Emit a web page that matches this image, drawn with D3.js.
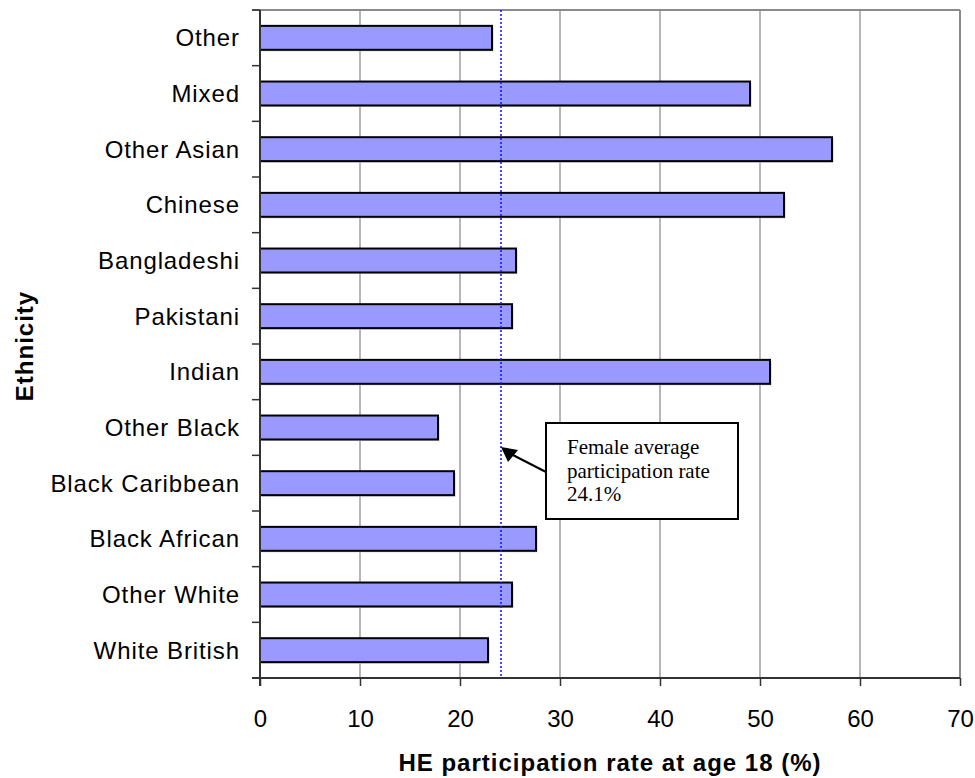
<!DOCTYPE html>
<html>
<head>
<meta charset="utf-8">
<script src="https://cdn.jsdelivr.net/npm/d3@7"></script>
<style>
  html, body { margin: 0; padding: 0; background: #fff; }
  svg { display: block; }
</style>
</head>
<body>
<div id="chart"></div>
<script>
// Ethnic groups, listed from the top of the chart to the bottom
const categories = [
  "Other", "Mixed", "Other Asian", "Chinese", "Bangladeshi", "Pakistani",
  "Indian", "Other Black", "Black Caribbean", "Black African", "Other White", "White British"
];
// HE participation rate at age 18 (%), females
const rates = [23.2, 49.0, 57.2, 52.4, 25.6, 25.2, 51.0, 17.8, 19.4, 27.6, 25.2, 22.8];
const xTicks = [0, 10, 20, 30, 40, 50, 60, 70];
const femaleAverage = 24.1;
const noteLines = ["Female average", "participation rate", femaleAverage + "%"];

const width = 975, height = 778;
const plot = { left: 260, right: 960, top: 10, bottom: 678 };

const svg = d3.select("#chart").append("svg")
  .attr("width", width).attr("height", height);

const x = d3.scaleLinear().domain([0, 70]).range([plot.left, plot.right]);
const y = d3.scaleBand().domain(categories)
  .range([plot.top, plot.bottom])
  .paddingInner(0.57).paddingOuter(0.285);
const step = y.step();
const bandStart = y.range()[0];

const sans = "'Liberation Sans', Arial, sans-serif";
const serif = "'Liberation Serif', 'Times New Roman', serif";

// vertical gridlines
svg.append("g").selectAll("line")
  .data(xTicks.filter(t => t > 0 && t < 70))
  .join("line")
  .attr("x1", d => x(d)).attr("x2", d => x(d))
  .attr("y1", plot.top).attr("y2", plot.bottom)
  .attr("stroke", "#6e6e6e").attr("stroke-width", 1);

// frame: top and right edges
svg.append("line")
  .attr("x1", plot.left - 8).attr("x2", plot.right)
  .attr("y1", plot.top).attr("y2", plot.top)
  .attr("stroke", "#8a8a8a").attr("stroke-width", 2);
svg.append("line")
  .attr("x1", plot.right).attr("x2", plot.right)
  .attr("y1", plot.top).attr("y2", plot.bottom)
  .attr("stroke", "#8a8a8a").attr("stroke-width", 2);

// bars with a faint drop shadow
const bars = svg.append("g");
bars.selectAll("rect.shadow")
  .data(categories)
  .join("rect")
  .attr("class", "shadow")
  .attr("x", x(0) + 1.5)
  .attr("y", d => y(d) + 1.5)
  .attr("width", (d, i) => x(rates[i]) - x(0))
  .attr("height", y.bandwidth())
  .attr("fill", "#c8c8c8");
bars.selectAll("rect.bar")
  .data(categories)
  .join("rect")
  .attr("class", "bar")
  .attr("x", x(0))
  .attr("y", d => y(d))
  .attr("width", (d, i) => x(rates[i]) - x(0))
  .attr("height", y.bandwidth())
  .attr("fill", "#9999ff")
  .attr("stroke", "#000")
  .attr("stroke-width", 2);

// female average reference line
svg.append("line")
  .attr("x1", x(femaleAverage)).attr("x2", x(femaleAverage))
  .attr("y1", plot.top).attr("y2", plot.bottom)
  .attr("stroke", "#1a1aff").attr("stroke-width", 1.6)
  .attr("stroke-dasharray", "2,2");

// y axis: line, ticks at band boundaries, labels
const yAxis = svg.append("g");
yAxis.append("line")
  .attr("x1", plot.left).attr("x2", plot.left)
  .attr("y1", plot.top).attr("y2", plot.bottom + 8)
  .attr("stroke", "#333").attr("stroke-width", 2);
yAxis.selectAll("line.tick")
  .data(d3.range(categories.length + 1))
  .join("line")
  .attr("class", "tick")
  .attr("x1", plot.left - 8).attr("x2", plot.left)
  .attr("y1", i => bandStart + i * step)
  .attr("y2", i => bandStart + i * step)
  .attr("stroke", "#333").attr("stroke-width", 1.5);
yAxis.selectAll("text")
  .data(categories)
  .join("text")
  .attr("x", plot.left - 20)
  .attr("y", d => y(d) + y.bandwidth() / 2)
  .attr("dy", "0.35em")
  .attr("text-anchor", "end")
  .attr("font-family", sans)
  .attr("font-size", 24)
  .attr("letter-spacing", 0.9)
  .attr("fill", "#000")
  .text(d => d);

// x axis
const xAxis = svg.append("g")
  .attr("transform", `translate(0,${plot.bottom})`)
  .call(d3.axisBottom(x).tickValues(xTicks).tickSize(8).tickSizeOuter(0).tickPadding(10));
xAxis.select(".domain")
  .attr("stroke", "#333").attr("stroke-width", 2)
  .attr("d", `M${plot.left - 8},0H${plot.right}`);
xAxis.selectAll(".tick line").attr("stroke", "#333").attr("stroke-width", 1.5);
xAxis.selectAll(".tick text")
  .attr("font-family", sans)
  .attr("font-size", 24)
  .attr("fill", "#000")
  .attr("dy", "1.3em");

// axis titles
svg.append("text")
  .attr("x", (plot.left + plot.right) / 2)
  .attr("y", 771)
  .attr("text-anchor", "middle")
  .attr("font-family", sans)
  .attr("font-weight", "bold")
  .attr("font-size", 24)
  .attr("letter-spacing", 1)
  .text("HE participation rate at age 18 (%)");

svg.append("text")
  .attr("transform", "translate(33,346) rotate(-90)")
  .attr("text-anchor", "middle")
  .attr("font-family", sans)
  .attr("font-weight", "bold")
  .attr("font-size", 24)
  .attr("letter-spacing", 1)
  .text("Ethnicity");

// annotation box with arrow to the average line
const note = { x: 546, y: 423, w: 192, h: 96 };
const tipY = 448;
svg.append("line")
  .attr("x1", note.x).attr("y1", 472)
  .attr("x2", x(femaleAverage) + 8).attr("y2", tipY + 5)
  .attr("stroke", "#000").attr("stroke-width", 2);
const tipX = x(femaleAverage);
svg.append("path")
  .attr("d", `M${tipX},${tipY - 1}L${tipX + 17},${tipY + 2}L${tipX + 7},${tipY + 14}Z`)
  .attr("fill", "#000");
svg.append("rect")
  .attr("x", note.x).attr("y", note.y)
  .attr("width", note.w).attr("height", note.h)
  .attr("fill", "#fff").attr("stroke", "#000").attr("stroke-width", 2);
svg.append("g").selectAll("text")
  .data(noteLines)
  .join("text")
  .attr("x", note.x + 21)
  .attr("y", (d, i) => 454 + i * 23.7)
  .attr("font-family", serif)
  .attr("font-size", 21)
  .attr("fill", "#000")
  .text(d => d);
</script>
</body>
</html>
